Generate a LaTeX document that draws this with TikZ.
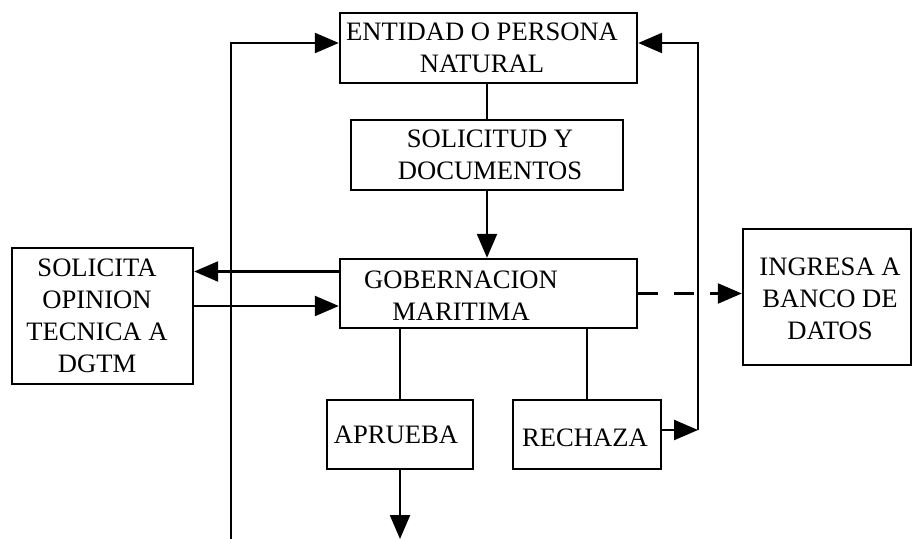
\documentclass[tikz,border=0pt]{standalone}
\usepackage{fontspec}
\setmainfont{Liberation Serif}
\usetikzlibrary{arrows.meta}

\begin{document}
\begin{tikzpicture}[x=0.5pt,y=-0.5pt,line width=1.2pt,
    box/.style={draw,rectangle,inner sep=0pt},
    txt/.style={align=center,font=\fontsize{13.3}{16}\selectfont},
    arr/.style={-{Triangle[length=12pt,width=10pt]}}]
    \useasboundingbox (0,0) rectangle (914,539);
    % cajas
    \node[box,minimum width=148.5pt,minimum height=35pt,
        label={[txt,name=entT,xshift=-3.25pt]center:{ENTIDAD O PERSONA\\NATURAL}}] (ent) at (488.5,48) {};
    \node[box,minimum width=136pt,minimum height=35pt,
        label={[txt,name=solT,xshift=1.5pt]center:{SOLICITUD Y\\DOCUMENTOS}}] (sol) at (487,155) {};
    \node[box,minimum width=148.5pt,minimum height=34.5pt,
        label={[txt,name=gobT,xshift=-13.75pt,yshift=-1.25pt]center:{GOBERNACION\\MARITIMA}}] (gob) at (488.5,293.5) {};
    \node[box,minimum width=90.5pt,minimum height=68pt,
        label={[txt,name=opiT,xshift=-2.75pt]center:{SOLICITA\\OPINION\\TECNICA A\\DGTM}}] (opi) at (102.5,316) {};
    \node[box,minimum width=84pt,minimum height=68pt,
        label={[txt,name=ingT,xshift=1.5pt,yshift=-1pt]center:{INGRESA A\\BANCO DE\\DATOS}}] (ing) at (827,297) {};
    \node[box,minimum width=73pt,minimum height=34.5pt,
        label={[txt,name=aprT,xshift=-2pt]center:{APRUEBA}}] (apr) at (400,434.5) {};
    \node[box,minimum width=74pt,minimum height=34.5pt,
        label={[txt,name=rechT,xshift=-1pt,yshift=-1.75pt]center:{RECHAZA}}] (rech) at (587,434.5) {};
    % flechas
    \coordinate (pie) at (231,539);
    \coordinate (jr) at (698,430);
    \coordinate (fin) at (400,539);
    \draw[arr] (pie) |- ([yshift=2.5pt]ent.west);
    \draw[arr] (rech.east |- jr) -- (jr);
    \draw[arr] (jr) |- ([yshift=2.5pt]ent.east);
    \draw (sol.north |- ent.south) -- (sol.north);
    \draw[arr] (sol.south) -- (sol.south |- gob.north);
    \draw[arr] ([yshift=11pt]gob.west) -- ([yshift=11pt]gob.west -| opi.east);
    \draw[arr] ([yshift=5pt]opi.east) -- ([yshift=5pt]opi.east -| gob.west);
    \draw[arr,dash pattern=on 10pt off 8pt] (gob.east) -- (gob.east -| ing.west);
    \draw (gob.south -| apr.north) -- (apr.north);
    \draw (gob.south -| rech.north) -- (rech.north);
    \draw[arr] (apr.south) -- (fin);
\end{tikzpicture}
\end{document}
